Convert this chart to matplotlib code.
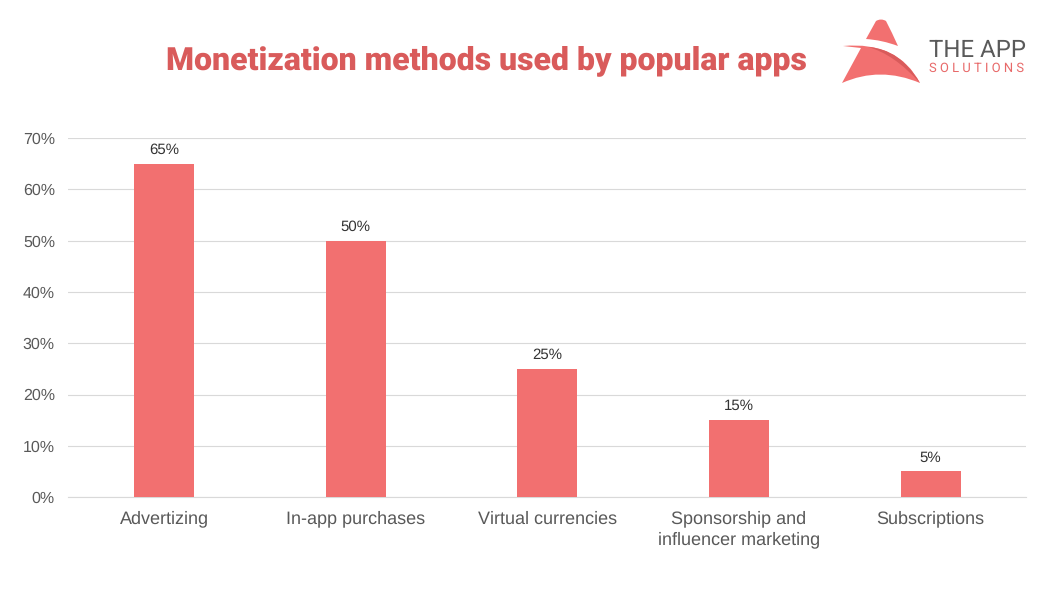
import matplotlib
matplotlib.use("Agg")
import matplotlib.pyplot as plt
from matplotlib.patches import PathPatch
from matplotlib.path import Path

categories = ["Advertizing", "In-app purchases", "Virtual currencies",
              "Sponsorship and\ninfluencer marketing", "Subscriptions"]
values = [65, 50, 25, 15, 5]
y_ticks = [0, 10, 20, 30, 40, 50, 60, 70]

W, H = 1051, 589
plt.rcParams['font.family'] = ['Liberation Sans', 'DejaVu Sans']
plt.rcParams['text.hinting'] = 'none'
plt.rcParams['text.hinting_factor'] = 1
fig = plt.figure(figsize=(W / 100, H / 100), dpi=100, facecolor="white")
ax = fig.add_axes([68.4 / W, 1 - 497.1 / H, (1026 - 68) / W, (497 - 138) / H])

x = range(len(categories))
ax.bar(x, values, width=0.313, color="#F27070", zorder=3)
for i, v in zip(x, values):
    ax.annotate(f"{v}%", (i, v), xytext=(0, 5), textcoords="offset points",
                ha="center", va="bottom", fontsize=11, color="#333333")
ax.set_xlim(-0.5, len(categories) - 0.5)
ax.set_ylim(0, 70)
ax.set_yticks(y_ticks)
ax.set_yticklabels([f"{t}%" for t in y_ticks], fontsize=11.5, color="#595959")
ax.set_xticks(list(x))
ax.set_xticklabels(categories, fontsize=13, color="#595959", linespacing=1.35)
ax.tick_params(axis="both", length=0)
ax.tick_params(axis="x", pad=9.5)
ax.tick_params(axis="y", pad=9.7)
ax.grid(axis="y", color="#D9D9D9", linewidth=0.8, zorder=0)
ax.set_axisbelow(True)
for s in ("top", "right", "left"):
    ax.spines[s].set_visible(False)
ax.spines["bottom"].set_color("#D9D9D9")
ax.spines["bottom"].set_linewidth(0.8)

fig.text(486 / W, 1 - 69.5 / H, "Monetization methods used by popular apps",
         ha="center", va="baseline", fontsize=23.1, fontweight=900,
         family=["Roboto", "DejaVu Sans"], color="#D95B5B")

# Logo, drawn in figure pixel space
logo = fig.add_axes([0, 0, 1, 1], facecolor="none")
logo.set_xlim(0, W)
logo.set_ylim(H, 0)
logo.axis("off")
logo.add_patch(PathPatch(Path(
    [(866, 39), (876, 21), (881, 18), (886, 21), (892, 33), (898, 46), (882, 40), (866, 39), (866, 39)],
    [Path.MOVETO, Path.LINETO, Path.CURVE3, Path.CURVE3, Path.LINETO, Path.LINETO,
     Path.CURVE3, Path.CURVE3, Path.CLOSEPOLY]),
    fc="#F27070", ec="none"))
logo.add_patch(PathPatch(Path(
    [(843, 46), (898, 41), (920, 83), (880, 66), (842, 83), (861, 48), (843, 46)],
    [Path.MOVETO, Path.CURVE3, Path.CURVE3, Path.CURVE3, Path.CURVE3, Path.LINETO, Path.CLOSEPOLY]),
    fc="#F27070", ec="none"))
logo.add_patch(PathPatch(Path(
    [(868, 47), (900, 49), (920, 83), (894, 54), (868, 47)],
    [Path.MOVETO, Path.CURVE3, Path.CURVE3, Path.CURVE3, Path.CURVE3]),
    fc="#D95B5B", ec="none"))
logo.text(929, 50, "THE APP", fontsize=17.5, color="#5A5A5A", va="center", ha="left",
          family=["Roboto", "DejaVu Sans"])
logo.text(929, 68, "S O L U T I O N S", fontsize=9.3, color="#E86A6A", va="center", ha="left",
          family=["Roboto", "DejaVu Sans"])

fig.savefig("out.png", dpi=100)
